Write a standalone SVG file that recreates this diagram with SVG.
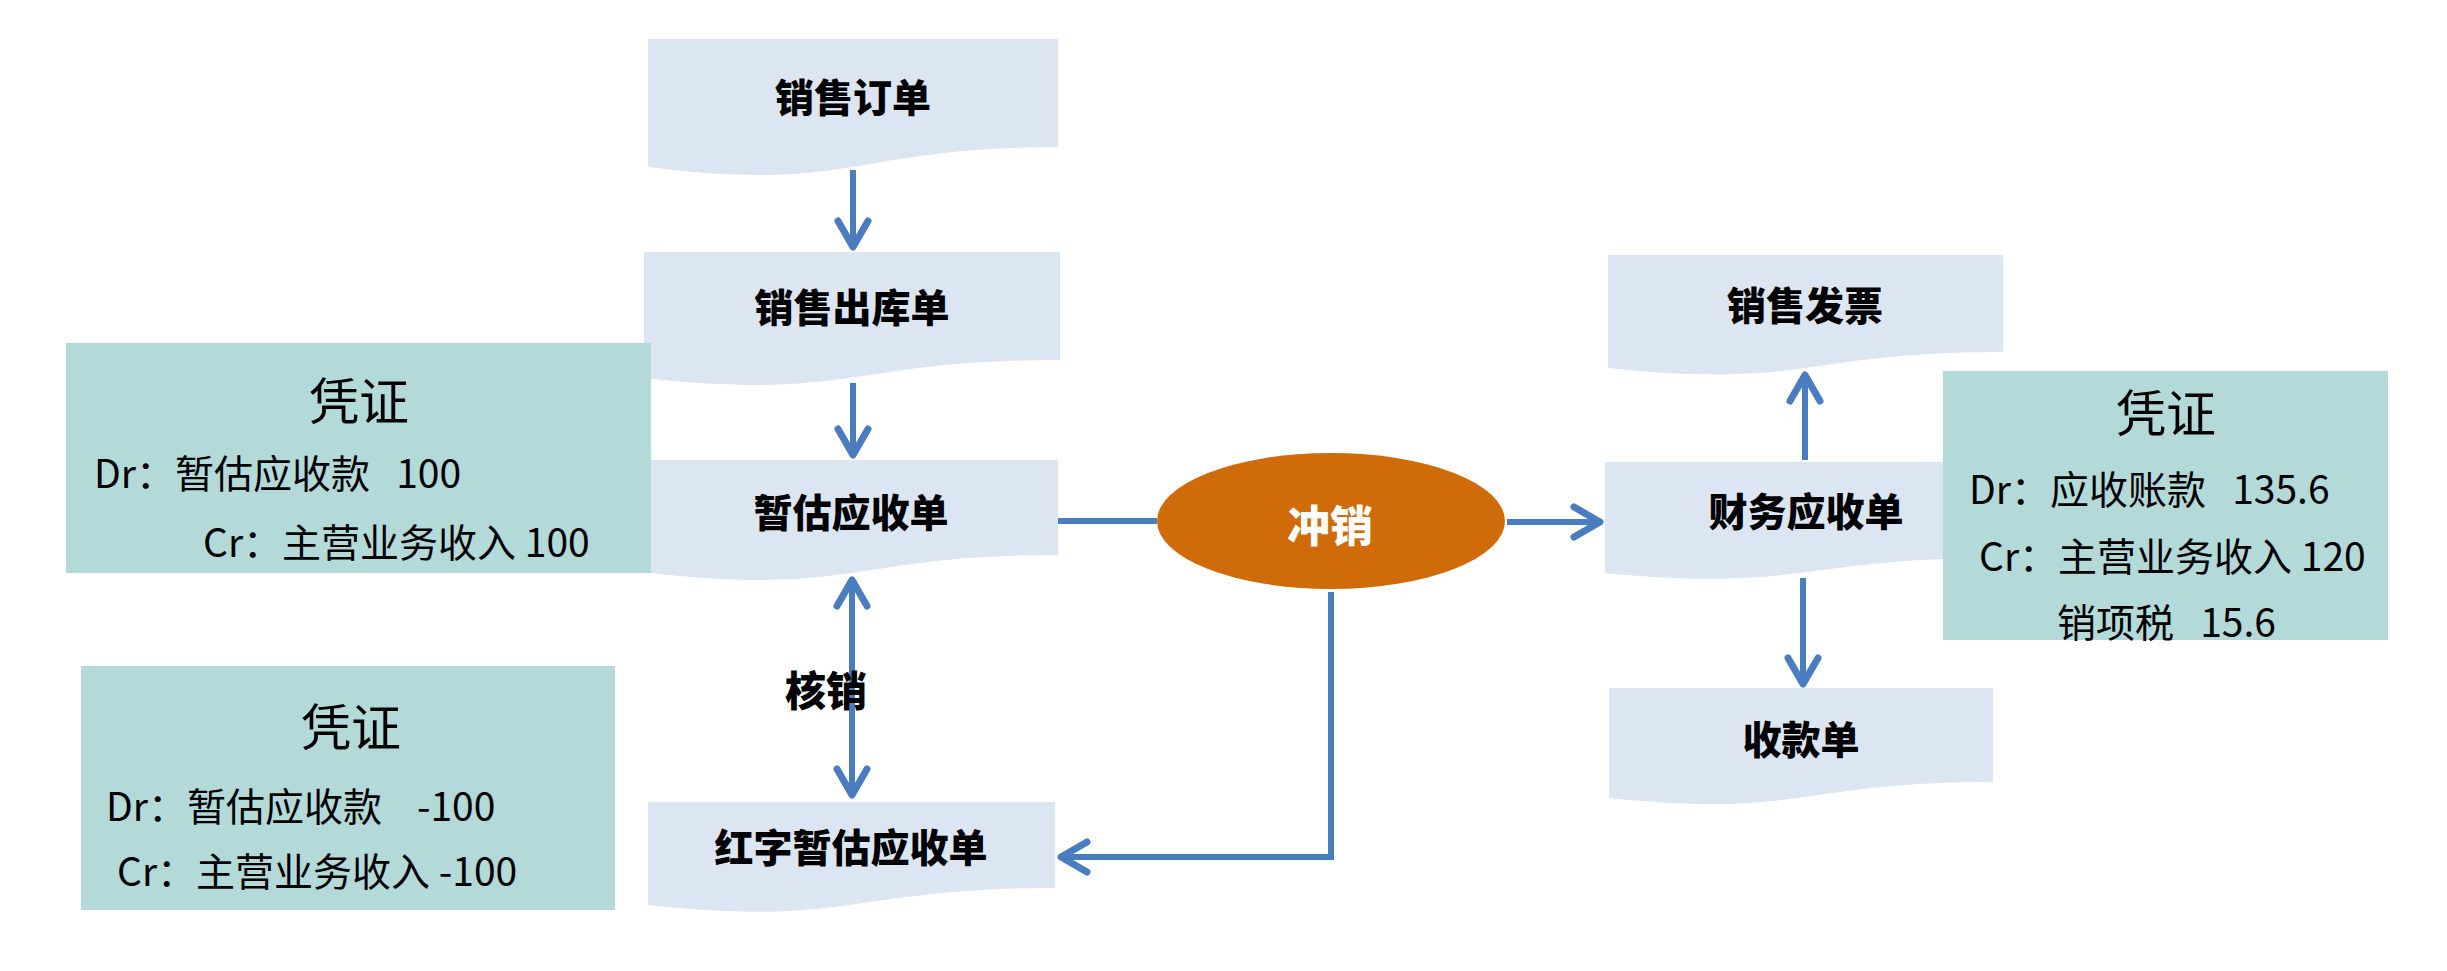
<svg xmlns="http://www.w3.org/2000/svg" width="2447" height="971" viewBox="0 0 2447 971">
<style>
.doc{fill:#DCE6F2}
.vou{fill:#B3D9D9}
.lbl{font-family:"Noto Sans CJK SC","Noto Sans",sans-serif;font-weight:900;font-size:39px;fill:#000;text-anchor:middle;dominant-baseline:central}
.vt{font-family:"Noto Sans CJK SC","Noto Sans",sans-serif;font-size:50px;fill:#000;text-anchor:middle;dominant-baseline:central}
.vl{font-family:"Noto Sans CJK SC","Noto Sans",sans-serif;font-size:39px;fill:#000;dominant-baseline:central;white-space:pre}
.con{fill:none;stroke:#4A7DBF;stroke-width:6}
</style>
<defs>
<marker id="arr" markerUnits="userSpaceOnUse" viewBox="-32 -20 40 40" refX="0" refY="0" markerWidth="40" markerHeight="40" orient="auto-start-reverse">
<path d="M-26,-15 L0,0 L-26,15" fill="none" stroke="#4A7DBF" stroke-width="7" stroke-linecap="round" stroke-linejoin="round"/>
</marker>
</defs>
<rect width="2447" height="971" fill="#FFFFFF"/>

<g id="node-xsdd">
<path class="doc" d="M648,39 H1058 V147 C853,147 853,193 648,167 Z"/>
<text class="lbl" x="853" y="95">销售订单</text>
</g>
<g id="node-xsckd">
<path class="doc" d="M644,252 H1060 V360 C852,360 852,401 644,378 Z"/>
<text class="lbl" x="852" y="305">销售出库单</text>
</g>
<g id="node-zgysd">
<path class="doc" d="M650,460 H1058 V555 C854,555 854,596 650,573 Z"/>
<text class="lbl" x="851" y="510">暂估应收单</text>
</g>
<g id="node-hzzgysd">
<path class="doc" d="M648,802 H1055 V888 C851,888 851,927 648,905 Z"/>
<text class="lbl" x="851" y="845">红字暂估应收单</text>
</g>
<g id="node-xsfp">
<path class="doc" d="M1608,255 H2003 V352 C1805,352 1805,389 1608,368 Z"/>
<text class="lbl" x="1805" y="303">销售发票</text>
</g>
<g id="node-cwysd">
<path class="doc" d="M1605,462 H2000 V558 C1802,558 1802,592 1605,573 Z"/>
<text class="lbl" x="1806" y="509">财务应收单</text>
</g>
<g id="node-skd">
<path class="doc" d="M1609,688 H1993 V782 C1801,782 1801,818 1609,798 Z"/>
<text class="lbl" x="1801" y="737">收款单</text>
</g>

<g id="node-cx">
<ellipse cx="1331" cy="521" rx="174" ry="68" fill="#D06B0A"/>
<text class="lbl" x="1330" y="523" style="fill:#FFFFFF;font-size:43px">冲销</text>
</g>

<g id="voucher-1">
<rect class="vou" x="66" y="343" width="585" height="230"/>
<text class="vt" x="359" y="398">凭证</text>
<text class="vl" x="94" y="471" xml:space="preserve">Dr：暂估应收款   100</text>
<text class="vl" x="203" y="540" xml:space="preserve">Cr：主营业务收入 100</text>
</g>
<g id="voucher-2">
<rect class="vou" x="81" y="666" width="534" height="244"/>
<text class="vt" x="351" y="724">凭证</text>
<text class="vl" x="106" y="804" xml:space="preserve">Dr：暂估应收款    -100</text>
<text class="vl" x="117" y="869" xml:space="preserve">Cr：主营业务收入 -100</text>
</g>
<g id="voucher-3">
<rect class="vou" x="1943" y="371" width="445" height="269"/>
<text class="vt" x="2166" y="410">凭证</text>
<text class="vl" x="1969" y="487" xml:space="preserve">Dr：应收账款   135.6</text>
<text class="vl" x="1979" y="554" xml:space="preserve">Cr：主营业务收入 120</text>
<text class="vl" x="2057" y="620" xml:space="preserve">销项税   15.6</text>
</g>

<g id="connectors">
<path class="con" d="M853,170 V247" marker-end="url(#arr)"/>
<path class="con" d="M853,383 V455" marker-end="url(#arr)"/>
<path class="con" d="M852,580 V795" marker-start="url(#arr)" marker-end="url(#arr)"/>
<path class="con" d="M1058,521 H1157"/>
<path class="con" d="M1507,522 H1600" marker-end="url(#arr)"/>
<path class="con" d="M1331,592 V857 H1061" marker-end="url(#arr)"/>
<path class="con" d="M1805,460 V375" marker-end="url(#arr)"/>
<path class="con" d="M1803,578 V684" marker-end="url(#arr)"/>
<text class="lbl" x="826" y="688" style="font-size:41px">核销</text>
</g>
</svg>
